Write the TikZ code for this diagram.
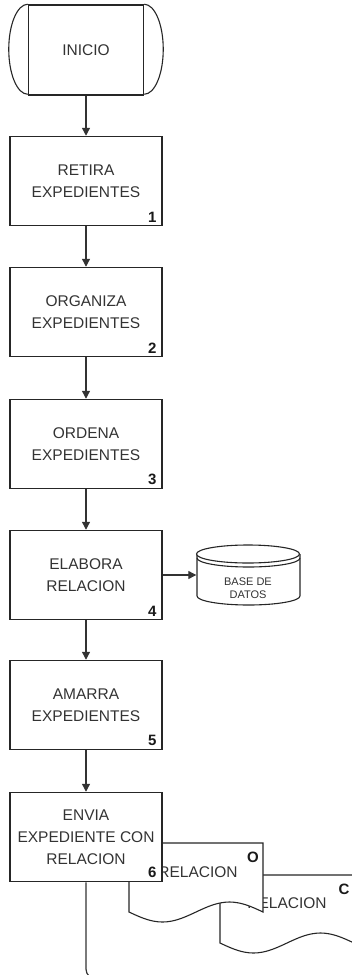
\documentclass[tikz,border=0pt]{standalone}
\usepackage{fontspec}
\setmainfont{Liberation Sans}
\usetikzlibrary{arrows.meta}
\begin{document}
\begin{tikzpicture}[>={Triangle[width=8pt,length=8pt]},x=1pt,y=-1pt]
	\tikzset{paso/.style={draw=black!85,line width=1.5pt,fill=white,minimum width=152pt,minimum height=89pt,
			align=center,text=black!80,font=\fontsize{15.5}{22}\selectfont},
		num/.style={anchor=south east,text=black!90,font=\fontsize{15}{15}\selectfont\bfseries,inner sep=1pt},
		doc/.style={draw=black!85,line width=1.1pt,fill=white},
		flecha/.style={->,draw=black!80,line width=1.2pt}
	}
	\path[use as bounding box] (0,0) rectangle (352,975);
	\clip (0,0) rectangle (352,975);
	\node[paso,minimum width=115pt,minimum height=90pt] (ini) at (86,50) {INICIO};
	\draw[black!85,line width=1.1pt] (ini.north west) arc[start angle=90,end angle=270,x radius=19pt,y radius=45pt]
	(ini.north east) arc[start angle=90,end angle=-90,x radius=19pt,y radius=45pt];
	\node[paso] (p1) at (86,181) {RETIRA\\EXPEDIENTES};
	\node[paso] (p2) at (86,312) {ORGANIZA\\EXPEDIENTES};
	\node[paso] (p3) at (86,444) {ORDENA\\EXPEDIENTES};
	\node[paso] (p4) at (86,575) {ELABORA\\RELACION};
	\node[paso] (p5) at (86,705) {AMARRA\\EXPEDIENTES};
	\foreach \i in {1,...,5}{
		\node[num] (n\i) at ([shift={(-5pt,3pt)}]p\i.south east) {\i};}
	\draw[flecha] (ini) -- (p1);
	\draw[flecha] (p1) -- (p2);
	\draw[flecha] (p2) -- (p3);
	\draw[flecha] (p3) -- (p4);
	\draw[flecha] (p4) -- (p5);
	% base de datos
	\node[minimum width=103pt,minimum height=60pt,inner sep=0pt] (db) at (248,575) {};
	\draw[doc] (197,554) -- (197,596) arc[start angle=180,end angle=360,x radius=51.5pt,y radius=9pt] -- (300,554);
	\draw[doc] (248,554) ellipse [x radius=51.5pt,y radius=9pt];
	\draw[black!85,line width=1.1pt] (197,558) arc[start angle=180,end angle=360,x radius=51.5pt,y radius=9pt];
	\node[align=center,text=black!80,font=\fontsize{11}{13}\selectfont] (dbt) at (248,588) {BASE DE\\DATOS};
	\draw[flecha] (p4) -- (db.west);
	% documentos
	\draw[doc] (220,875) -- (354,875) -- (354,943) sin (320.5,933) cos (287,943) sin (253.5,953) cos (220,943) -- cycle;
	\node[text=black!80,font=\fontsize{15.5}{18}\selectfont] (r2) at (287,903) {RELACION};
	\node[num,anchor=center] (c) at (344,889) {C};
	\draw[doc] (129,843) -- (263,843) -- (263,912) sin (229.5,902) cos (196,912) sin (162.5,922) cos (129,912) -- cycle;
	\node[text=black!80,font=\fontsize{15.5}{18}\selectfont] (r1) at (198,872) {RELACION};
	\node[num,anchor=center] (o) at (253,857) {O};
	\node[paso] (p6) at (86,837) {ENVIA\\EXPEDIENTE CON\\RELACION};
	\node[num] (n6) at ([shift={(-5pt,3pt)}]p6.south east) {6};
	\draw[flecha] (p5) -- (p6);
	\coordinate (fin) at (140,979);
	\draw[black!80,line width=1.2pt,rounded corners=10pt] (p6.south) |- (fin);
\end{tikzpicture}
\end{document}
